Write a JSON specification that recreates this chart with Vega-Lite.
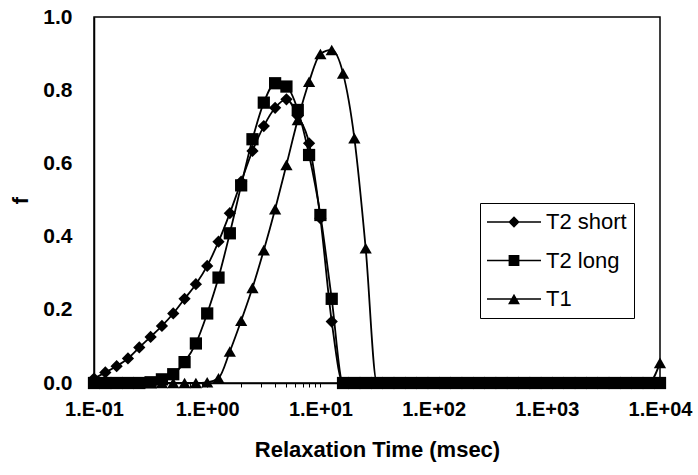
{
  "$schema": "https://vega.github.io/schema/vega-lite/v6.json",
  "width": 566,
  "height": 366,
  "autosize": {"type": "none"},
  "padding": {"left": 94, "top": 17, "right": 38, "bottom": 92},
  "background": "white",
  "config": {
    "font": "Liberation Sans",
    "view": {"stroke": "black", "strokeWidth": 1.5},
    "axis": {"grid": false, "domainColor": "black", "domainWidth": 1.5, "tickColor": "black", "labelColor": "black", "titleColor": "black", "labelFont": "Liberation Sans", "titleFont": "Liberation Sans", "labelFontWeight": "bold", "titleFontWeight": "bold", "labelFontSize": 20, "titleFontSize": 22}
  },
  "data": {"values": [
    {"time": 0.1, "series": "T2 short", "f": 0.012},
    {"time": 0.12589, "series": "T2 short", "f": 0.029},
    {"time": 0.15849, "series": "T2 short", "f": 0.046},
    {"time": 0.19953, "series": "T2 short", "f": 0.067},
    {"time": 0.25119, "series": "T2 short", "f": 0.097},
    {"time": 0.31623, "series": "T2 short", "f": 0.126},
    {"time": 0.39811, "series": "T2 short", "f": 0.156},
    {"time": 0.50119, "series": "T2 short", "f": 0.19},
    {"time": 0.63096, "series": "T2 short", "f": 0.23},
    {"time": 0.79433, "series": "T2 short", "f": 0.27},
    {"time": 1, "series": "T2 short", "f": 0.32},
    {"time": 1.2589, "series": "T2 short", "f": 0.386},
    {"time": 1.5849, "series": "T2 short", "f": 0.464},
    {"time": 1.9953, "series": "T2 short", "f": 0.55},
    {"time": 2.5119, "series": "T2 short", "f": 0.634},
    {"time": 3.1623, "series": "T2 short", "f": 0.702},
    {"time": 3.9811, "series": "T2 short", "f": 0.752},
    {"time": 5.0119, "series": "T2 short", "f": 0.775},
    {"time": 6.3096, "series": "T2 short", "f": 0.73},
    {"time": 7.9433, "series": "T2 short", "f": 0.655},
    {"time": 10, "series": "T2 short", "f": 0.45},
    {"time": 12.589, "series": "T2 short", "f": 0.168},
    {"time": 15.849, "series": "T2 short", "f": 0},
    {"time": 19.953, "series": "T2 short", "f": 0},
    {"time": 25.119, "series": "T2 short", "f": 0},
    {"time": 31.623, "series": "T2 short", "f": 0},
    {"time": 39.811, "series": "T2 short", "f": 0},
    {"time": 50.119, "series": "T2 short", "f": 0},
    {"time": 63.096, "series": "T2 short", "f": 0},
    {"time": 79.433, "series": "T2 short", "f": 0},
    {"time": 100, "series": "T2 short", "f": 0},
    {"time": 125.89, "series": "T2 short", "f": 0},
    {"time": 158.49, "series": "T2 short", "f": 0},
    {"time": 199.53, "series": "T2 short", "f": 0},
    {"time": 251.19, "series": "T2 short", "f": 0},
    {"time": 316.23, "series": "T2 short", "f": 0},
    {"time": 398.11, "series": "T2 short", "f": 0},
    {"time": 501.19, "series": "T2 short", "f": 0},
    {"time": 630.96, "series": "T2 short", "f": 0},
    {"time": 794.33, "series": "T2 short", "f": 0},
    {"time": 1000, "series": "T2 short", "f": 0},
    {"time": 1258.9, "series": "T2 short", "f": 0},
    {"time": 1584.9, "series": "T2 short", "f": 0},
    {"time": 1995.3, "series": "T2 short", "f": 0},
    {"time": 2511.9, "series": "T2 short", "f": 0},
    {"time": 3162.3, "series": "T2 short", "f": 0},
    {"time": 3981.1, "series": "T2 short", "f": 0},
    {"time": 5011.9, "series": "T2 short", "f": 0},
    {"time": 6309.6, "series": "T2 short", "f": 0},
    {"time": 7943.3, "series": "T2 short", "f": 0},
    {"time": 10000, "series": "T2 short", "f": 0},
    {"time": 0.1, "series": "T2 long", "f": 0},
    {"time": 0.12589, "series": "T2 long", "f": 0},
    {"time": 0.15849, "series": "T2 long", "f": 0},
    {"time": 0.19953, "series": "T2 long", "f": 0},
    {"time": 0.25119, "series": "T2 long", "f": 0},
    {"time": 0.31623, "series": "T2 long", "f": 0.002},
    {"time": 0.39811, "series": "T2 long", "f": 0.01},
    {"time": 0.50119, "series": "T2 long", "f": 0.024},
    {"time": 0.63096, "series": "T2 long", "f": 0.057},
    {"time": 0.79433, "series": "T2 long", "f": 0.108},
    {"time": 1, "series": "T2 long", "f": 0.19},
    {"time": 1.2589, "series": "T2 long", "f": 0.288},
    {"time": 1.5849, "series": "T2 long", "f": 0.409},
    {"time": 1.9953, "series": "T2 long", "f": 0.54},
    {"time": 2.5119, "series": "T2 long", "f": 0.666},
    {"time": 3.1623, "series": "T2 long", "f": 0.766},
    {"time": 3.9811, "series": "T2 long", "f": 0.819},
    {"time": 5.0119, "series": "T2 long", "f": 0.81},
    {"time": 6.3096, "series": "T2 long", "f": 0.746},
    {"time": 7.9433, "series": "T2 long", "f": 0.623},
    {"time": 10, "series": "T2 long", "f": 0.459},
    {"time": 12.589, "series": "T2 long", "f": 0.23},
    {"time": 15.849, "series": "T2 long", "f": 0},
    {"time": 19.953, "series": "T2 long", "f": 0},
    {"time": 25.119, "series": "T2 long", "f": 0},
    {"time": 31.623, "series": "T2 long", "f": 0},
    {"time": 39.811, "series": "T2 long", "f": 0},
    {"time": 50.119, "series": "T2 long", "f": 0},
    {"time": 63.096, "series": "T2 long", "f": 0},
    {"time": 79.433, "series": "T2 long", "f": 0},
    {"time": 100, "series": "T2 long", "f": 0},
    {"time": 125.89, "series": "T2 long", "f": 0},
    {"time": 158.49, "series": "T2 long", "f": 0},
    {"time": 199.53, "series": "T2 long", "f": 0},
    {"time": 251.19, "series": "T2 long", "f": 0},
    {"time": 316.23, "series": "T2 long", "f": 0},
    {"time": 398.11, "series": "T2 long", "f": 0},
    {"time": 501.19, "series": "T2 long", "f": 0},
    {"time": 630.96, "series": "T2 long", "f": 0},
    {"time": 794.33, "series": "T2 long", "f": 0},
    {"time": 1000, "series": "T2 long", "f": 0},
    {"time": 1258.9, "series": "T2 long", "f": 0},
    {"time": 1584.9, "series": "T2 long", "f": 0},
    {"time": 1995.3, "series": "T2 long", "f": 0},
    {"time": 2511.9, "series": "T2 long", "f": 0},
    {"time": 3162.3, "series": "T2 long", "f": 0},
    {"time": 3981.1, "series": "T2 long", "f": 0},
    {"time": 5011.9, "series": "T2 long", "f": 0},
    {"time": 6309.6, "series": "T2 long", "f": 0},
    {"time": 7943.3, "series": "T2 long", "f": 0},
    {"time": 10000, "series": "T2 long", "f": 0},
    {"time": 0.1, "series": "T1", "f": 0},
    {"time": 0.12589, "series": "T1", "f": 0},
    {"time": 0.15849, "series": "T1", "f": 0},
    {"time": 0.19953, "series": "T1", "f": 0},
    {"time": 0.25119, "series": "T1", "f": 0},
    {"time": 0.31623, "series": "T1", "f": 0},
    {"time": 0.39811, "series": "T1", "f": 0},
    {"time": 0.50119, "series": "T1", "f": 0},
    {"time": 0.63096, "series": "T1", "f": 0},
    {"time": 0.79433, "series": "T1", "f": 0},
    {"time": 1, "series": "T1", "f": 0.002},
    {"time": 1.2589, "series": "T1", "f": 0.013},
    {"time": 1.5849, "series": "T1", "f": 0.086},
    {"time": 1.9953, "series": "T1", "f": 0.17},
    {"time": 2.5119, "series": "T1", "f": 0.26},
    {"time": 3.1623, "series": "T1", "f": 0.363},
    {"time": 3.9811, "series": "T1", "f": 0.475},
    {"time": 5.0119, "series": "T1", "f": 0.596},
    {"time": 6.3096, "series": "T1", "f": 0.719},
    {"time": 7.9433, "series": "T1", "f": 0.823},
    {"time": 10, "series": "T1", "f": 0.899},
    {"time": 12.589, "series": "T1", "f": 0.91},
    {"time": 15.849, "series": "T1", "f": 0.846},
    {"time": 19.953, "series": "T1", "f": 0.669},
    {"time": 25.119, "series": "T1", "f": 0.368},
    {"time": 31.623, "series": "T1", "f": 0},
    {"time": 39.811, "series": "T1", "f": 0},
    {"time": 50.119, "series": "T1", "f": 0},
    {"time": 63.096, "series": "T1", "f": 0},
    {"time": 79.433, "series": "T1", "f": 0},
    {"time": 100, "series": "T1", "f": 0},
    {"time": 125.89, "series": "T1", "f": 0},
    {"time": 158.49, "series": "T1", "f": 0},
    {"time": 199.53, "series": "T1", "f": 0},
    {"time": 251.19, "series": "T1", "f": 0},
    {"time": 316.23, "series": "T1", "f": 0},
    {"time": 398.11, "series": "T1", "f": 0},
    {"time": 501.19, "series": "T1", "f": 0},
    {"time": 630.96, "series": "T1", "f": 0},
    {"time": 794.33, "series": "T1", "f": 0},
    {"time": 1000, "series": "T1", "f": 0},
    {"time": 1258.9, "series": "T1", "f": 0},
    {"time": 1584.9, "series": "T1", "f": 0},
    {"time": 1995.3, "series": "T1", "f": 0},
    {"time": 2511.9, "series": "T1", "f": 0},
    {"time": 3162.3, "series": "T1", "f": 0},
    {"time": 3981.1, "series": "T1", "f": 0},
    {"time": 5011.9, "series": "T1", "f": 0},
    {"time": 6309.6, "series": "T1", "f": 0},
    {"time": 7943.3, "series": "T1", "f": 0},
    {"time": 10000, "series": "T1", "f": 0.055}
  ]},
  "encoding": {
    "x": {
      "field": "time", "type": "quantitative",
      "scale": {"type": "log", "domain": [0.1, 10000], "nice": false},
      "axis": {
        "title": "Relaxation Time (msec)",
        "values": [0.1,0.2,0.3,0.4,0.5,0.6,0.7,0.8,0.9,1,2,3,4,5,6,7,8,9,10,20,30,40,50,60,70,80,90,100,200,300,400,500,600,700,800,900,1000,2000,3000,4000,5000,6000,7000,8000,9000,10000],
        "labelExpr": "abs(datum.value / pow(10, round(log(datum.value) / LN10)) - 1) < 0.000001 ? '1.E' + (datum.value < 1 ? '-' : '+') + '0' + abs(round(log(datum.value) / LN10)) : ''",
        "labelOverlap": false,
        "labelFlush": false,
        "labelBound": false,
        "tickSize": 4,
        "tickWidth": 1,
        "labelPadding": 12,
        "titlePadding": 20
      }
    },
    "y": {
      "field": "f", "type": "quantitative",
      "scale": {"domain": [0, 1], "nice": false, "zero": true},
      "axis": {
        "title": "f",
        "values": [0, 0.2, 0.4, 0.6, 0.8, 1],
        "format": ".1f",
        "ticks": false,
        "labelFontSize": 21,
        "labelPadding": 22,
        "titlePadding": 10
      }
    }
  },
  "resolve": {"scale": {"shape": "independent"}},
  "layer": [
    {
      "mark": {"type": "line", "color": "black", "strokeWidth": 1.8, "interpolate": "monotone"},
      "encoding": {"detail": {"field": "series", "type": "nominal"}}
    },
    {
      "mark": {"type": "point", "filled": true, "color": "black", "opacity": 1, "size": 150},
      "encoding": {
        "shape": {
          "field": "series", "type": "nominal",
          "scale": {"domain": ["T2 short", "T2 long", "T1"], "range": ["diamond", "square", "triangle-up"]},
          "legend": null
        }
      }
    },
    {
      "transform": [{"filter": "false"}],
      "mark": {"type": "point", "filled": true, "color": "black", "opacity": 1},
      "encoding": {
        "shape": {
          "field": "series", "type": "nominal",
          "scale": {
            "domain": ["T2 short", "T2 long", "T1"],
            "range": [
              "M-1,-0.03L1,-0.03L1,0.03L-1,0.03Z M-0.21,0L0,-0.21L0.21,0L0,0.21Z",
              "M-1,-0.03L1,-0.03L1,0.03L-1,0.03Z M-0.2,-0.2L0.2,-0.2L0.2,0.2L-0.2,0.2Z",
              "M-1,-0.03L1,-0.03L1,0.03L-1,0.03Z M0,-0.19L0.22,0.19L-0.22,0.19Z"
            ]
          },
          "legend": {
            "title": null,
            "orient": "none",
            "legendX": 386,
            "legendY": 186,
            "padding": 7,
            "strokeColor": "black",
            "fillColor": "white",
            "symbolSize": 2916,
            "symbolFillColor": "black",
            "symbolStrokeColor": "transparent",
            "symbolStrokeWidth": 0,
            "symbolOpacity": 1,
            "clipHeight": 24,
            "rowPadding": 14.5,
            "labelOffset": 5,
            "labelFontSize": 22,
            "labelFont": "Liberation Sans",
            "labelFontWeight": "normal",
            "labelColor": "black"
          }
        }
      }
    }
  ]
}
